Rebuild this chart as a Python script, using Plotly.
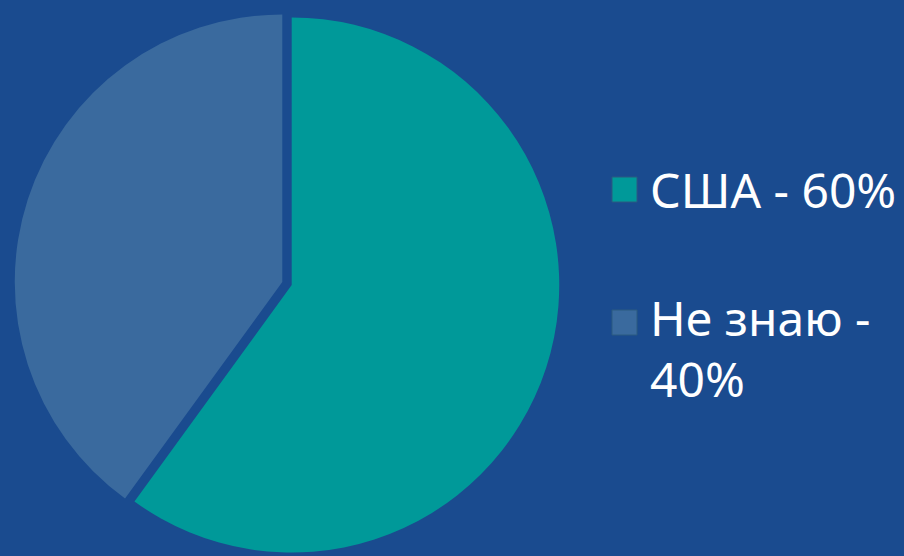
import plotly.graph_objects as go

# Data
categories = ["США", "Не знаю"]
values = [60, 40]
legend_labels = ["США - 60%", "Не знаю -<br>40%"]
colors = ["#009999", "#3a6a9e"]

W, H = 904, 556
BG = "#1a4b8f"

fig = go.Figure()
fig.add_trace(go.Pie(
    labels=categories,
    values=values,
    sort=False,
    direction="clockwise",
    rotation=0,
    pull=[0.0185, 0.0185],
    marker=dict(colors=colors, line=dict(width=0)),
    textinfo="none",
    hoverinfo="label+percent",
    showlegend=False,
    domain=dict(x=[12 / W, 562 / W], y=[0, 545 / H]),
))

# Legend drawn as squares + text lines
sq = 25
sq_tops = [177, 310]
line_tops = [[155], [283, 344]]
for col, lab, st, tops in zip(colors, legend_labels, sq_tops, line_tops):
    fig.add_shape(type="rect", xref="paper", yref="paper",
                  x0=612 / W, x1=(612 + sq) / W,
                  y0=1 - (st + sq) / H, y1=1 - st / H,
                  fillcolor=col, line=dict(color="#2a5a80", width=1))
    for line, t in zip(lab.split("<br>"), tops):
        fig.add_annotation(xref="paper", yref="paper",
                           x=648 / W, y=1 - t / H,
                           xanchor="left", yanchor="top", align="left",
                           text=line, showarrow=False,
                           font=dict(family="Noto Sans", size=48, color="white"))

fig.update_layout(
    width=W, height=H,
    margin=dict(l=0, r=0, t=0, b=0),
    paper_bgcolor=BG,
    plot_bgcolor=BG,
)
fig.write_html("out.html",
               config={"displayModeBar": False},
               post_script="document.body.style.margin='0';document.body.style.background='%s';" % BG)
